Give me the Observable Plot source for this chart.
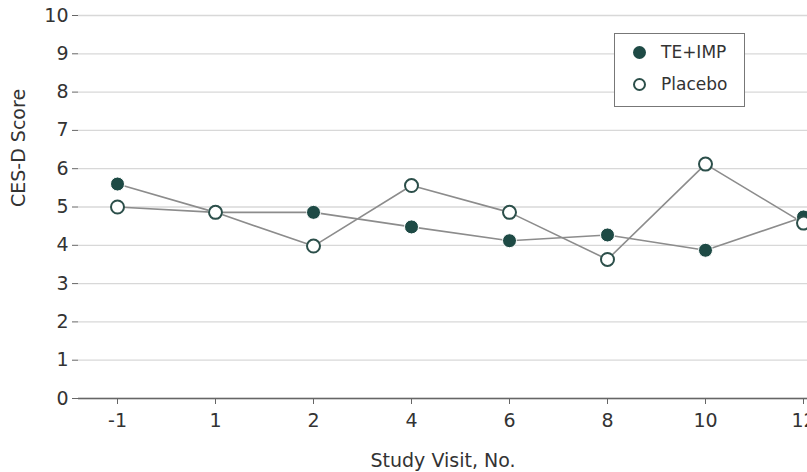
<!DOCTYPE html>
<html>
<head>
<meta charset="utf-8">
<script src="https://cdn.jsdelivr.net/npm/d3@7"></script>
<script src="https://cdn.jsdelivr.net/npm/@observablehq/plot@0.6"></script>
<style>
  html, body { margin: 0; padding: 0; background: #fff; }
  #wrap { position: relative; width: 807px; height: 472px; overflow: hidden; }
  #legend {
    position: absolute; left: 614px; top: 33px; width: 131px; height: 74px;
    border: 1.3px solid #777; background: #fff; box-sizing: border-box;
    font-family: "DejaVu Sans", sans-serif;
    font-size: 17px; color: #333;
  }
  .row { position: absolute; left: 18px; display: flex; align-items: center; }
  .sw { width: 13px; height: 13px; border-radius: 50%; box-sizing: border-box; margin-right: 15px; }
</style>
</head>
<body>
<div id="wrap">
  <div id="chart"></div>
  <div id="legend">
    <div class="row" style="top:8px"><div class="sw" style="background:#1e4a45;"></div><span>TE+IMP</span></div>
    <div class="row" style="top:40px"><div class="sw" style="background:#fff;border:2px solid #2c4f4a;"></div><span>Placebo</span></div>
  </div>
</div>
<script>
const visits = ["-1", "1", "2", "4", "6", "8", "10", "12"];
const teImp = [5.6, 4.86, 4.86, 4.48, 4.12, 4.27, 3.87, 4.74];
const placebo = [5.0, 4.86, 3.98, 5.56, 4.86, 3.63, 6.12, 4.58];
const yTicks = [0, 1, 2, 3, 4, 5, 6, 7, 8, 9, 10];

const rows = [];
visits.forEach((v, i) => rows.push({visit: v, score: teImp[i], group: "TE+IMP"}));
visits.forEach((v, i) => rows.push({visit: v, score: placebo[i], group: "Placebo"}));

const font = '"DejaVu Sans", sans-serif';

const chart = Plot.plot({
  width: 807,
  height: 472,
  marginLeft: 78,
  marginRight: 0,
  marginTop: 15,
  marginBottom: 74,
  style: { fontFamily: font, fontSize: "19px", color: "#333", background: "#fff" },
  x: { type: "point", domain: visits, range: [117, 803], padding: 0 },
  y: { domain: [0, 10] },
  marks: [
    Plot.gridY(yTicks, { stroke: "#d8d8d8", strokeOpacity: 1, strokeWidth: 1.3 }),
    Plot.ruleY([0], { stroke: "#666", strokeWidth: 1.3 }),
    Plot.ruleX([0], { x: () => 78, y1: 0, y2: 10, stroke: "#666", strokeWidth: 1.3 }),
    Plot.axisY(yTicks, { tickSize: 6, tickPadding: 4, stroke: "#666", label: null, fontSize: 19 }),
    Plot.text(["CES-D Score"], { frameAnchor: "left", dx: -60, rotate: -90, fontSize: 19, fill: "#333" }),
    Plot.axisX({ tickSize: 6, tickPadding: 9, stroke: "#666", label: null, fontSize: 19 }),
    Plot.text(["Study Visit, No."], { frameAnchor: "bottom", dy: 68, fontSize: 19, fill: "#333" }),
    Plot.line(rows, { x: "visit", y: "score", z: "group", stroke: "#8c8c8c", strokeWidth: 1.6 }),
    Plot.dot(rows.filter(d => d.group === "TE+IMP"), { x: "visit", y: "score", r: 7, fill: "#1e4a45", stroke: "#fff", strokeWidth: 1 }),
    Plot.dot(rows.filter(d => d.group === "Placebo"), { x: "visit", y: "score", r: 6.5, fill: "#fff", stroke: "#2c4f4a", strokeWidth: 2 })
  ]
});
document.getElementById("chart").appendChild(chart);
</script>
</body>
</html>
